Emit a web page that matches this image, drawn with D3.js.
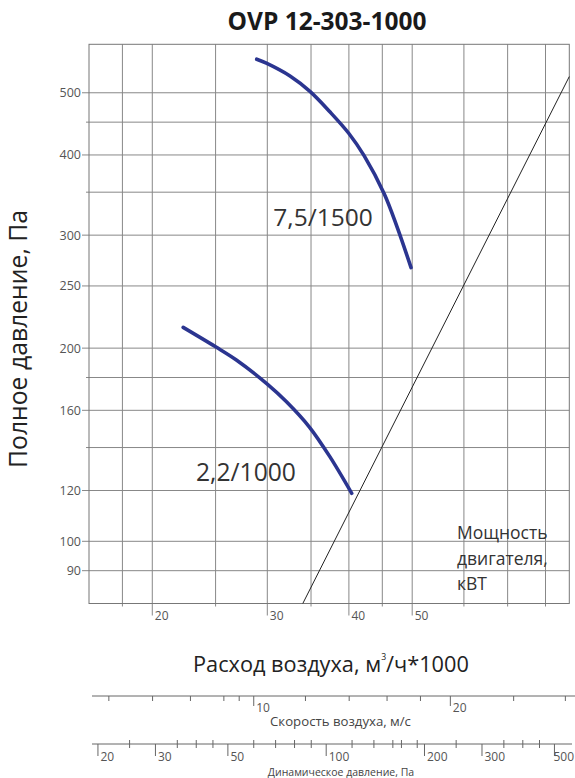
<!DOCTYPE html>
<html>
<head>
<meta charset="utf-8">
<script src="https://cdn.jsdelivr.net/npm/d3@7"></script>
<style>
  html, body { margin: 0; padding: 0; background: #fff; }
  svg { display: block; font-family: "Open Sans", "Noto Sans", sans-serif; }
</style>
</head>
<body>
<svg id="chart" width="575" height="778"></svg>
<script>
// ---------- data ----------
const chartTitle = "OVP 12-303-1000";
const flowGrid = [18, 20, 25, 30, 35, 40, 45, 50, 60, 70, 80];
const flowLabels = [20, 30, 40, 50];
const pressureGrid = [90, 100, 120, 140, 160, 180, 200, 250, 300, 350, 400, 450, 500];
const pressureLabels = [90, 100, 120, 160, 200, 250, 300, 400, 500];

const curve75Flow = [28.9, 29.9, 32.5, 34.9, 37.4, 40.0, 42.2, 45.3, 47.4, 49.8];
const curve75Pressure = [564, 556, 531, 502, 467, 432, 399, 348, 309, 267];
const curve22Flow = [22.3, 25.0, 26.9, 30.0, 32.1, 34.8, 37.4, 40.4];
const curve22Pressure = [215.5, 201, 191.7, 175.8, 165, 150.7, 135.5, 118.8];
const powerLineFlow = [34.0, 87];
const powerLinePressure = [80, 530];

const velocityTicks = [6, 7, 8, 9, 9.5, 10, 12, 14, 16, 18, 20, 25, 30];
const velocityLabels = [10, 20];
const dynamicTicks = [20, 25, 30, 35, 40, 45, 50, 60, 70, 80, 90, 100, 120, 140, 160, 170, 190, 200, 250, 300, 350, 400, 450, 500];
const dynamicLabels = [20, 30, 50, 100, 200, 300, 500];

const flowPerVelocity = 2.86;   // 1 m/s  ->  2.86 thousand m3/h
const dynamicFactor = 0.6;      // Pd = 0.6 * v^2

// ---------- layout ----------
const L = 89, R = 569.3, T = 44.3, B = 603.5;
const W = 575;
const svg = d3.select("#chart");
svg.append("rect").attr("width", 575).attr("height", 778).attr("fill", "#fff");

const x = d3.scaleLog().domain([16, 87]).range([L, R]);
const y = d3.scaleLog().domain([80, 595]).range([B, T]);
const vScale = d3.scaleLog()
  .domain(x.domain().map(d => d / flowPerVelocity)).range(x.range());
const pdScale = d3.scaleLog()
  .domain(vScale.domain().map(v => dynamicFactor * v * v)).range(x.range());

const gridColor = "#888";
const labelColor = "#555";

function fit(sel, width) {
  const w = sel.node().getComputedTextLength();
  const fs = parseFloat(sel.attr("font-size"));
  sel.attr("font-size", (fs * width / w).toFixed(2));
  return sel;
}

// title
fit(svg.append("text").attr("x", 327).attr("y", 30).attr("text-anchor", "middle")
  .attr("font-size", 22).attr("font-weight", "bold").attr("fill", "#1a1a1a")
  .text(chartTitle), 199);

// grid: horizontal
const g = svg.append("g");
g.selectAll("line.h").data(pressureGrid).join("line")
  .attr("x1", d => L - (pressureLabels.includes(d) ? 7 : 3)).attr("x2", R)
  .attr("y1", d => y(d)).attr("y2", d => y(d))
  .attr("stroke", gridColor).attr("stroke-width", 1);
// grid: vertical
g.selectAll("line.v").data(flowGrid).join("line")
  .attr("x1", d => x(d)).attr("x2", d => x(d))
  .attr("y1", T).attr("y2", d => B + (flowLabels.includes(d) ? 12 : 3))
  .attr("stroke", gridColor).attr("stroke-width", 1);
// frame
g.append("rect").attr("x", L).attr("y", T).attr("width", R - L).attr("height", B - T)
  .attr("fill", "none").attr("stroke", "#777").attr("stroke-width", 1);

// y tick labels
g.selectAll("text.yl").data(pressureLabels).join("text")
  .attr("x", L - 8).attr("y", d => y(d)).attr("dy", "0.35em")
  .attr("text-anchor", "end").attr("font-size", 12.5).attr("fill", labelColor)
  .text(d => d);
// x tick labels
g.selectAll("text.xl").data(flowLabels).join("text")
  .attr("x", d => x(d) + 2.5).attr("y", 620)
  .attr("font-size", 12).attr("fill", labelColor)
  .text(d => d);

// power line
const line = d3.line().x(d => x(d[0])).y(d => y(d[1]));
svg.append("path").datum(d3.zip(powerLineFlow, powerLinePressure))
  .attr("d", line).attr("fill", "none").attr("stroke", "#222").attr("stroke-width", 1);

// fan curves
const smooth = d3.line().x(d => x(d[0])).y(d => y(d[1])).curve(d3.curveCatmullRom.alpha(0.5));
[[curve75Flow, curve75Pressure], [curve22Flow, curve22Pressure]].forEach(([q, p]) => {
  svg.append("path").datum(d3.zip(q, p)).attr("d", smooth)
    .attr("fill", "none").attr("stroke", "#2b3590").attr("stroke-width", 3.6)
    .attr("stroke-linecap", "round");
});

// curve labels
fit(svg.append("text").attr("x", 273.3).attr("y", 226).attr("font-size", 24)
  .attr("fill", "#333").text("7,5/1500"), 99.5);
fit(svg.append("text").attr("x", 196).attr("y", 480.7).attr("font-size", 24)
  .attr("fill", "#333").text("2,2/1000"), 100);

// motor power note
const note = svg.append("text").attr("x", 457).attr("font-size", 17.5).attr("fill", "#333");
["Мощность", "двигателя,", "кВТ"].forEach((t, i) => {
  note.append("tspan").attr("x", 457).attr("y", 539 + i * 25.5).text(t);
});

// y title
fit(svg.append("text").attr("transform", "translate(27,339) rotate(-90)")
  .attr("text-anchor", "middle").attr("font-size", 21).attr("fill", "#222")
  .text("Полное давление, Па"), 258);

// x title
const xt = svg.append("text").attr("x", 193).attr("y", 671.7).attr("font-size", 21).attr("fill", "#222");
xt.append("tspan").text("Расход воздуха, м");
xt.append("tspan").attr("font-size", "0.4em").attr("dy", "-1.4em").text("3");
xt.append("tspan").attr("dy", "0.56em").text("/ч*1000");
(function () {
  const w = xt.node().getBBox().width;
  const fs = 21 * 276 / w;
  xt.attr("font-size", fs.toFixed(2));
})();

// velocity axis
const va = svg.append("g");
va.append("line").attr("x1", 92).attr("x2", 575).attr("y1", 696).attr("y2", 696)
  .attr("stroke", "#666").attr("stroke-width", 1);
va.selectAll("line.t").data(velocityTicks).join("line")
  .attr("x1", d => vScale(d)).attr("x2", d => vScale(d))
  .attr("y1", 696).attr("y2", d => velocityLabels.includes(d) ? 706 : 701)
  .attr("stroke", "#666").attr("stroke-width", 1);
va.selectAll("text").data(velocityLabels).join("text")
  .attr("x", d => vScale(d) + 2.5).attr("y", 711.7)
  .attr("font-size", 12).attr("fill", labelColor).text(d => d);
fit(svg.append("text").attr("x", 340.5).attr("y", 726).attr("text-anchor", "middle")
  .attr("font-size", 12.5).attr("fill", "#444").text("Скорость воздуха, м/с"), 141);

// dynamic pressure axis
const da = svg.append("g");
da.append("line").attr("x1", 92).attr("x2", 572).attr("y1", 744).attr("y2", 744)
  .attr("stroke", "#666").attr("stroke-width", 1);
da.selectAll("line.t").data(dynamicTicks).join("line")
  .attr("x1", d => pdScale(d)).attr("x2", d => pdScale(d))
  .attr("y1", d => dynamicLabels.includes(d) ? 744 : 740)
  .attr("y2", d => dynamicLabels.includes(d) ? 756 : 748)
  .attr("stroke", "#666").attr("stroke-width", 1);
da.selectAll("text").data(dynamicLabels).join("text")
  .attr("y", 760.5).attr("font-size", 12).attr("fill", labelColor).text(d => d)
  .attr("x", function (d) {
    const w = this.getComputedTextLength();
    return Math.min(pdScale(d) + 2.5, W - 1 - w);
  });
svg.append("text").attr("x", 341).attr("y", 775.5).attr("text-anchor", "middle")
  .attr("font-size", 10.5).attr("fill", "#444").text("Динамическое давление, Па");
</script>
</body>
</html>
